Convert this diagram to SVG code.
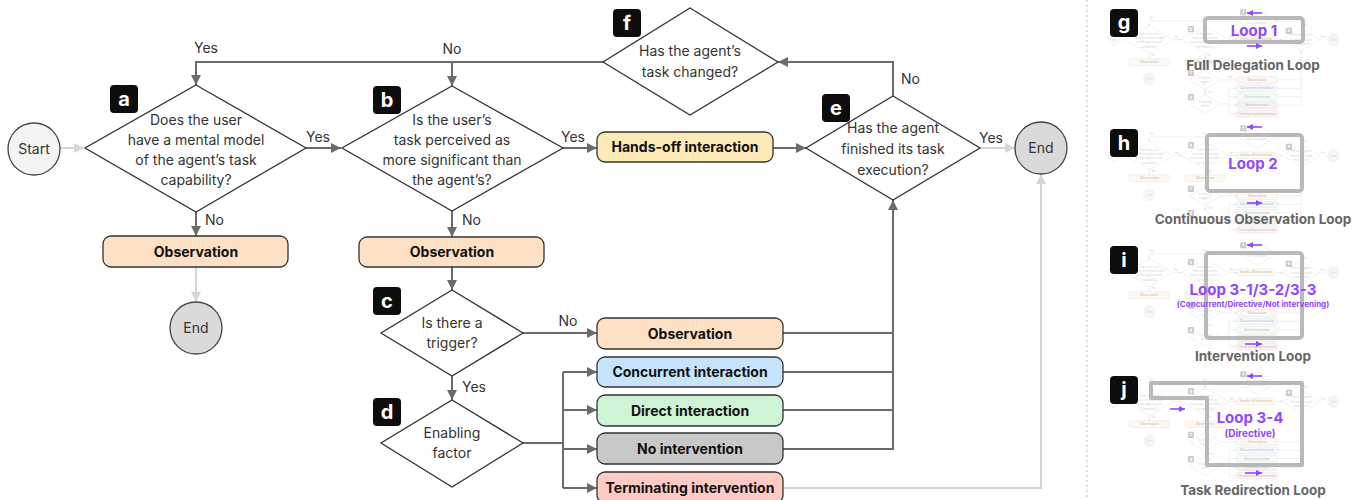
<svg xmlns="http://www.w3.org/2000/svg" xmlns:xlink="http://www.w3.org/1999/xlink" width="1361" height="500" viewBox="0 0 1361 500">
  <style>
    text { font-family: "Inter", "Liberation Sans", sans-serif; }
    .q { font-size: 14px; fill: #333; text-anchor: middle; }
    .lbl { font-size: 14px; fill: #333; }
    .box { stroke: #333; stroke-width: 1.3; }
    .bt { font-size: 14px; font-weight: 700; fill: #111; text-anchor: middle; }
    .dia { fill: #fff; stroke: #333; stroke-width: 1.3; }
    .tag { fill: #0d0d0d; }
    .tagt { font-size: 20px; font-weight: 700; fill: #fff; text-anchor: middle; }
    .dark { fill: none; stroke: #6b6b6b; stroke-width: 2; }
    .light { fill: none; stroke: #d6d6d6; stroke-width: 2; }
    .loop { fill: none; stroke: #b9b9b9; stroke-width: 4; stroke-linejoin: round; }
    .pl { fill: none; stroke: #9147ff; stroke-width: 1.6; }
    .pt { font-weight: 700; fill: #9147ff; text-anchor: middle; }
    .title { font-size: 13.5px; font-weight: 700; fill: #666; text-anchor: middle; }
  </style>
  <defs>
    <marker id="ah" markerWidth="10" markerHeight="10" refX="10" refY="5" orient="auto" markerUnits="userSpaceOnUse">
      <path d="M0,0 L10,5 L0,10 z" fill="#6b6b6b"/>
    </marker>
    <marker id="ahl" markerWidth="10" markerHeight="10" refX="10" refY="5" orient="auto" markerUnits="userSpaceOnUse">
      <path d="M0,0 L10,5 L0,10 z" fill="#d6d6d6"/>
    </marker>
    <marker id="ahp" markerWidth="6" markerHeight="6" refX="6" refY="3" orient="auto" markerUnits="userSpaceOnUse">
      <path d="M0,0 L6,3 L0,6 z" fill="#9147ff"/>
    </marker>
  </defs>

  <rect width="1361" height="500" fill="#fff"/>

  <!-- main flowchart -->
  <g id="flow">
    <g id="connectors">
      <path class="light" d="M60,148 H84" marker-end="url(#ahl)"/>
      <path class="dark" d="M603,62 H196 V85" marker-end="url(#ah)"/>
      <path class="dark" d="M452,62 V86" marker-end="url(#ah)"/>
      <path class="dark" d="M306,148 H341" marker-end="url(#ah)"/>
      <path class="dark" d="M196,212 V236" marker-end="url(#ah)"/>
      <path class="light" d="M196,267 V302" marker-end="url(#ahl)"/>
      <path class="dark" d="M563,148 H597" marker-end="url(#ah)"/>
      <path class="dark" d="M452,211 V237" marker-end="url(#ah)"/>
      <path class="dark" d="M452,267 V290" marker-end="url(#ah)"/>
      <path class="dark" d="M523,333 H597" marker-end="url(#ah)"/>
      <path class="dark" d="M452,376 V400" marker-end="url(#ah)"/>
      <path class="dark" d="M523,443 H563"/>
      <path class="dark" d="M563,372 V488"/>
      <path class="dark" d="M563,372 H597" marker-end="url(#ah)"/>
      <path class="dark" d="M563,410 H597" marker-end="url(#ah)"/>
      <path class="dark" d="M563,449 H597" marker-end="url(#ah)"/>
      <path class="dark" d="M563,488 H597" marker-end="url(#ah)"/>
      <path class="dark" d="M773,148 H806" marker-end="url(#ah)"/>
      <path class="dark" d="M783,333 H893"/>
      <path class="dark" d="M783,372 H893"/>
      <path class="dark" d="M783,410 H893"/>
      <path class="dark" d="M783,449 H893 V200" marker-end="url(#ah)"/>
      <path class="dark" d="M893,96 V62 H778" marker-end="url(#ah)"/>
      <path class="light" d="M980,148 H1015" marker-end="url(#ahl)"/>
      <path class="light" d="M783,488 H1041 V174" marker-end="url(#ahl)"/>
      <text class="lbl" x="206" y="53" text-anchor="middle">Yes</text>
      <text class="lbl" x="452" y="54" text-anchor="middle">No</text>
      <text class="lbl" x="318" y="142" text-anchor="middle">Yes</text>
      <text class="lbl" x="205" y="225">No</text>
      <text class="lbl" x="573" y="142" text-anchor="middle">Yes</text>
      <text class="lbl" x="462" y="225">No</text>
      <text class="lbl" x="568" y="326" text-anchor="middle">No</text>
      <text class="lbl" x="462" y="392">Yes</text>
      <text class="lbl" x="901" y="84">No</text>
      <text class="lbl" x="991" y="143" text-anchor="middle">Yes</text>
    </g>

    <g id="start">
      <circle cx="34" cy="149" r="26" fill="#f4f4f4" stroke="#444" stroke-width="1.3"/>
      <text class="q" x="34" y="154">Start</text>
    </g>

    <g id="node-a">
      <polygon class="dia" points="196,85 306,148 196,212 85,148"/>
      <text class="q" x="196" y="125">Does the user</text>
      <text class="q" x="196" y="145">have a mental model</text>
      <text class="q" x="196" y="165">of the agent’s task</text>
      <text class="q" x="196" y="185">capability?</text>
      <rect class="tag" x="110" y="85" width="28" height="28" rx="4"/>
      <text class="tagt" x="124" y="106">a</text>
    </g>

    <g id="obs-a">
      <rect class="box" x="103" y="236" width="185" height="31" rx="8" fill="#fee0c4"/>
      <text class="bt" x="196" y="256.5">Observation</text>
    </g>

    <g id="end-a">
      <circle cx="196" cy="328" r="26" fill="#dadada" stroke="#444" stroke-width="1.3"/>
      <text class="q" x="196" y="333">End</text>
    </g>

    <g id="node-b">
      <polygon class="dia" points="452,86 563,148 452,211 342,148"/>
      <text class="q" x="452" y="125">Is the user’s</text>
      <text class="q" x="452" y="145">task perceived as</text>
      <text class="q" x="452" y="165">more significant than</text>
      <text class="q" x="452" y="185">the agent’s?</text>
      <rect class="tag" x="373" y="86" width="28" height="28" rx="4"/>
      <text class="tagt" x="387" y="107">b</text>
    </g>

    <g id="obs-b">
      <rect class="box" x="359" y="237" width="185" height="30" rx="8" fill="#fee0c4"/>
      <text class="bt" x="452" y="257">Observation</text>
    </g>

    <g id="node-c">
      <polygon class="dia" points="452,290 523,333 452,376 381,333"/>
      <text class="q" x="452" y="328">Is there a</text>
      <text class="q" x="452" y="348">trigger?</text>
      <rect class="tag" x="373" y="287" width="28" height="28" rx="4"/>
      <text class="tagt" x="387" y="308">c</text>
    </g>

    <g id="node-d">
      <polygon class="dia" points="452,400 523,443 452,487 381,443"/>
      <text class="q" x="452" y="438">Enabling</text>
      <text class="q" x="452" y="458">factor</text>
      <rect class="tag" x="373" y="398" width="28" height="28" rx="4"/>
      <text class="tagt" x="387" y="419">d</text>
    </g>

    <g id="hands-off">
      <rect class="box" x="597" y="132" width="176" height="30" rx="8" fill="#feeab6"/>
      <text class="bt" x="685" y="152">Hands-off interaction</text>
    </g>

    <g id="obs-c">
      <rect class="box" x="597" y="318" width="186" height="31" rx="8" fill="#fee0c4"/>
      <text class="bt" x="690" y="338.5">Observation</text>
    </g>

    <g id="concurrent">
      <rect class="box" x="597" y="357" width="186" height="30" rx="8" fill="#c6e4fc"/>
      <text class="bt" x="690" y="377">Concurrent interaction</text>
    </g>

    <g id="direct">
      <rect class="box" x="597" y="395" width="186" height="31" rx="8" fill="#cef3d5"/>
      <text class="bt" x="690" y="415.5">Direct interaction</text>
    </g>

    <g id="no-intervention">
      <rect class="box" x="597" y="433" width="186" height="31" rx="8" fill="#c8c8c8"/>
      <text class="bt" x="690" y="453.5">No intervention</text>
    </g>

    <g id="terminating">
      <rect class="box" x="597" y="472" width="186" height="31" rx="8" fill="#ffc9c4"/>
      <text class="bt" x="690" y="492.5">Terminating intervention</text>
    </g>

    <g id="node-e">
      <polygon class="dia" points="893,96 980,148 893,200 806,148"/>
      <text class="q" x="893" y="133">Has the agent</text>
      <text class="q" x="893" y="154">finished its task</text>
      <text class="q" x="893" y="175">execution?</text>
      <rect class="tag" x="822" y="94" width="28" height="28" rx="4"/>
      <text class="tagt" x="836" y="115">e</text>
    </g>

    <g id="node-f">
      <polygon class="dia" points="690,8 778,62 690,115 603,62"/>
      <text class="q" x="690" y="56">Has the agent’s</text>
      <text class="q" x="690" y="77">task changed?</text>
      <rect class="tag" x="613" y="9" width="28" height="28" rx="4"/>
      <text class="tagt" x="627" y="30">f</text>
    </g>

    <g id="end-main">
      <circle cx="1041" cy="148" r="26" fill="#dadada" stroke="#444" stroke-width="1.3"/>
      <text class="q" x="1041" y="153">End</text>
    </g>
  </g>

  <!-- separator -->
  <line x1="1087" y1="0" x2="1087" y2="500" stroke="#b5b5b5" stroke-width="1" stroke-dasharray="2 3"/>

  <!-- loop panels: faded copy of the flow with the loop outlined -->
  <g id="panel-g">
    <use xlink:href="#flow" href="#flow" transform="translate(1106.6,7.3) scale(0.218)" opacity="0.22"/>
    <rect class="loop" x="1205" y="18" width="98" height="24" rx="3"/>
    <path class="pl" d="M1262,13 H1247" marker-end="url(#ahp)"/>
    <path class="pl" d="M1247,46 H1262" marker-end="url(#ahp)"/>
    <text class="pt" x="1254" y="36" font-size="15">Loop 1</text>
    <text class="title" x="1253" y="70">Full Delegation Loop</text>
    <rect class="tag" x="1110" y="9" width="28" height="28" rx="4"/>
    <text class="tagt" x="1124" y="29">g</text>
  </g>

  <g id="panel-h">
    <use xlink:href="#flow" href="#flow" transform="translate(1106.6,123.3) scale(0.218)" opacity="0.22"/>
    <rect class="loop" x="1207" y="135" width="95" height="56" rx="3"/>
    <path class="pl" d="M1262,127 H1247" marker-end="url(#ahp)"/>
    <path class="pl" d="M1247,203 H1262" marker-end="url(#ahp)"/>
    <text class="pt" x="1253" y="169" font-size="15">Loop 2</text>
    <text class="title" x="1253" y="224">Continuous Observation Loop</text>
    <rect class="tag" x="1110" y="129" width="28" height="28" rx="4"/>
    <text class="tagt" x="1124" y="150">h</text>
  </g>

  <g id="panel-i">
    <use xlink:href="#flow" href="#flow" transform="translate(1106.6,240.3) scale(0.218)" opacity="0.22"/>
    <rect class="loop" x="1206" y="253" width="96" height="85" rx="3"/>
    <path class="pl" d="M1262,245 H1247" marker-end="url(#ahp)"/>
    <path class="pl" d="M1245,344 H1262" marker-end="url(#ahp)"/>
    <text class="pt" x="1253" y="295" font-size="15">Loop 3-1/3-2/3-3</text>
    <text class="pt" x="1253" y="307" font-size="8">(Concurrent/Directive/Not intervening)</text>
    <text class="title" x="1253" y="361">Intervention Loop</text>
    <rect class="tag" x="1110" y="246" width="28" height="28" rx="4"/>
    <text class="tagt" x="1124" y="267">i</text>
  </g>

  <g id="panel-j">
    <use xlink:href="#flow" href="#flow" transform="translate(1106.6,369.3) scale(0.218)" opacity="0.22"/>
    <path class="loop" d="M1151,383 H1302 V465 H1207 V398 H1151 Z"/>
    <path class="pl" d="M1262,376 H1247" marker-end="url(#ahp)"/>
    <path class="pl" d="M1170,409 H1185" marker-end="url(#ahp)"/>
    <path class="pl" d="M1245,473 H1262" marker-end="url(#ahp)"/>
    <text class="pt" x="1250" y="423" font-size="15">Loop 3-4</text>
    <text class="pt" x="1250" y="437" font-size="10">(Directive)</text>
    <text class="title" x="1253" y="495">Task Redirection Loop</text>
    <rect class="tag" x="1110" y="376" width="28" height="28" rx="4"/>
    <text class="tagt" x="1124" y="396">j</text>
  </g>
</svg>
